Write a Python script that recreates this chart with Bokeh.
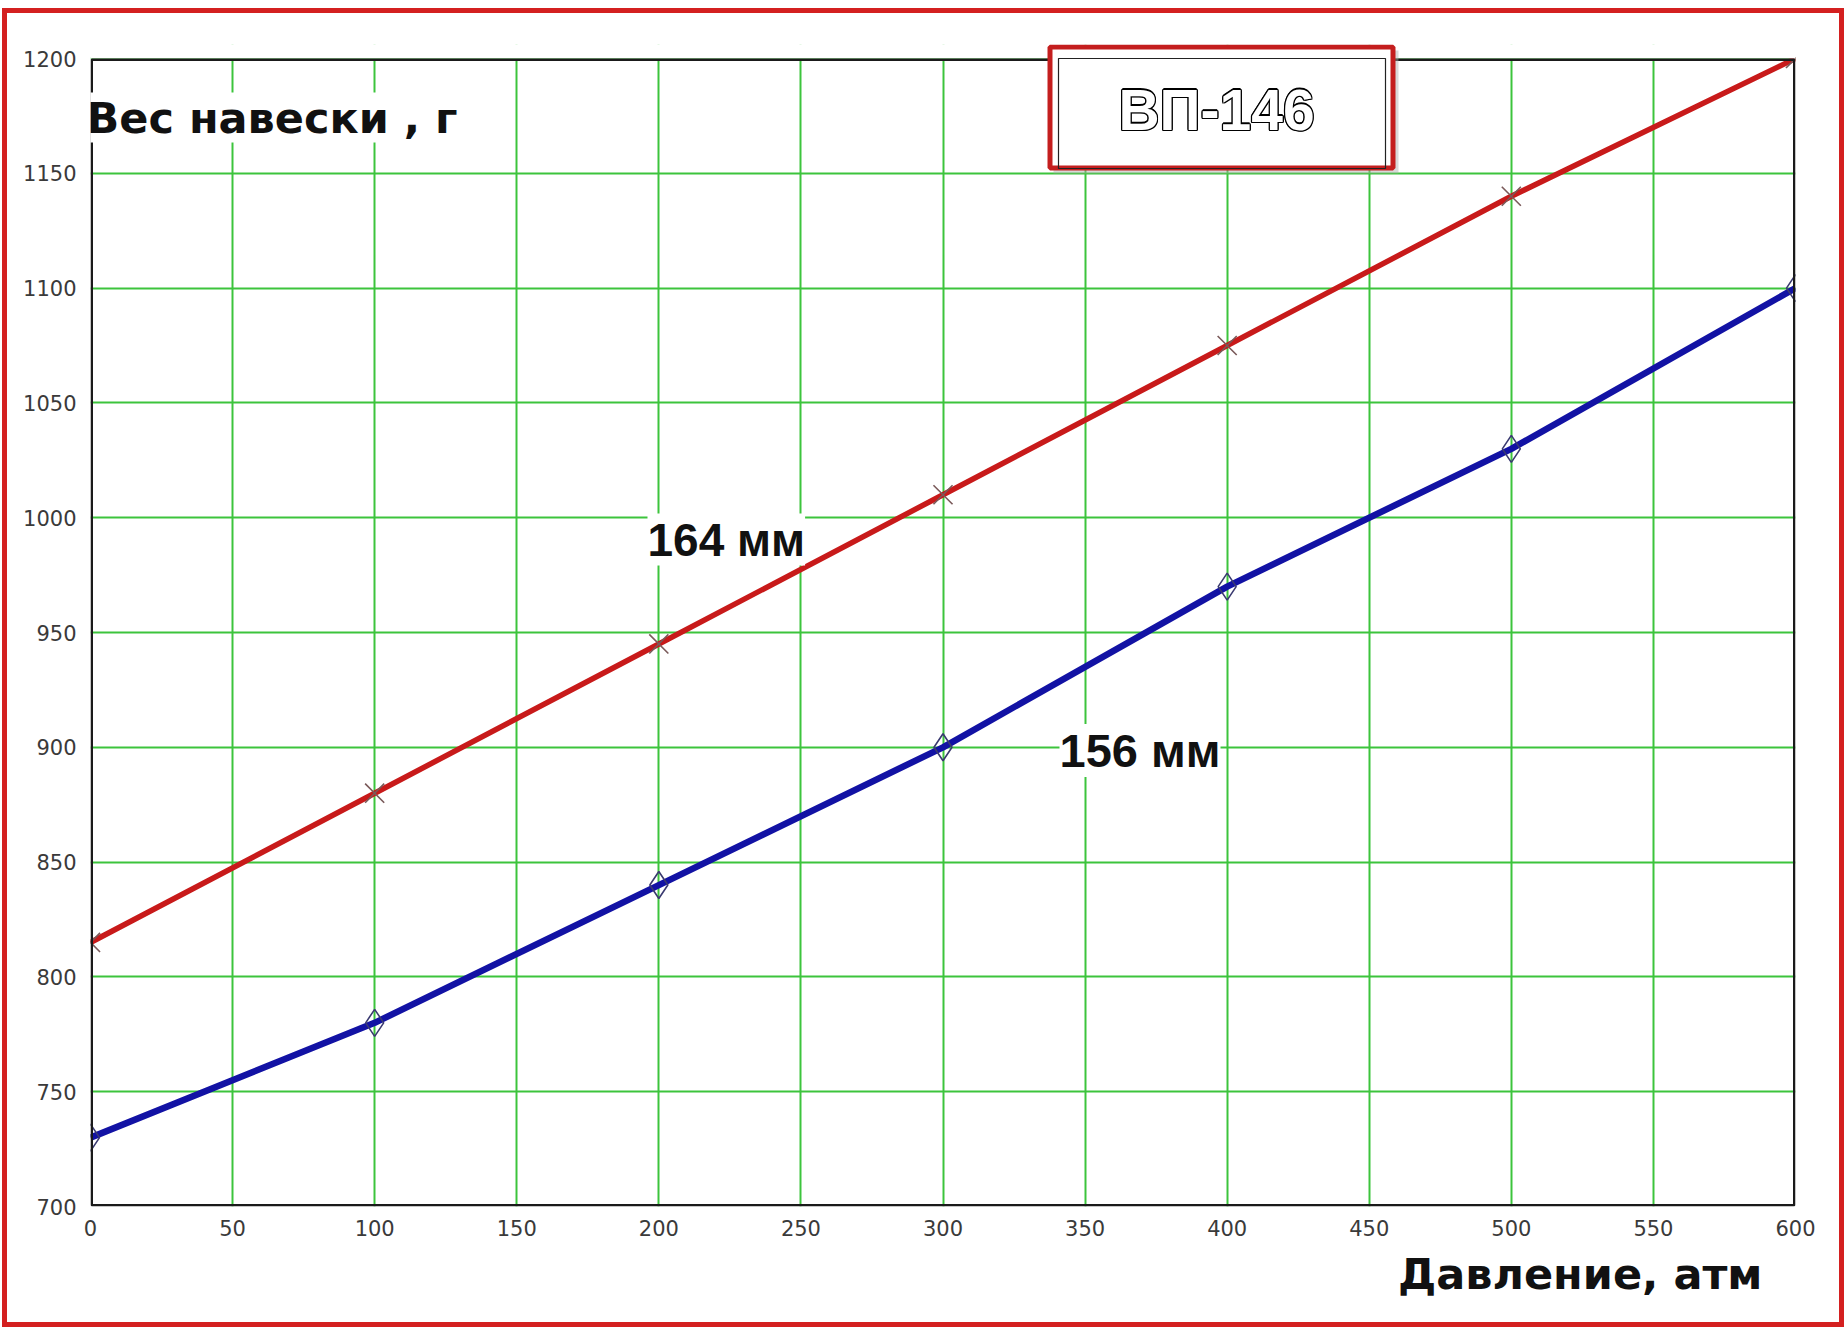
from bokeh.plotting import figure
from bokeh.models import Range1d, FixedTicker, Label, BoxAnnotation, InlineStyleSheet, Title
from bokeh.embed import file_html
from bokeh.resources import INLINE

# ---- data ----
pressure = [0, 100, 200, 300, 400, 500, 600]
weight_164 = [815, 880, 945, 1010, 1075, 1140, 1200]
weight_156 = [730, 780, 840, 900, 970, 1030, 1100]
x_ticks = [0, 50, 100, 150, 200, 250, 300, 350, 400, 450, 500, 550, 600]
y_ticks = [700, 750, 800, 850, 900, 950, 1000, 1050, 1100, 1150, 1200]
label_164 = "164 мм"
label_156 = "156 мм"
y_title = "Вес навески , г"
x_title = "Давление, атм"
badge = "ВП-146"

# ---- layout (page pixels) ----
W, H = 1844, 1327
FL, FR, FB = 90, 1795, 1206
FT_DATA = 58          # pixel row of y = 1200 (top of drawn frame)
FT = 44               # top of the drawing area (badge pokes above the frame)
X0, X1, Y0, Y1 = 0, 600, 700, 1200
Y1_EXT = Y1 + (FT_DATA - FT) / (FB - FT_DATA) * (Y1 - Y0)


def dx(px):
    return X0 + (px - FL) / (FR - FL) * (X1 - X0)


def dy(py):
    return Y0 + (FB - py) / (FB - FT_DATA) * (Y1 - Y0)


p = figure(width=W, height=H, x_range=Range1d(X0, X1), y_range=Range1d(Y0, Y1_EXT),
           output_backend="svg", toolbar_location=None, title=None,
           min_border_left=FL, min_border_right=W - FR,
           min_border_top=FT, min_border_bottom=H - FB)
p.stylesheets = [InlineStyleSheet(css=(
    ":host::after { content: ''; position: absolute; left: 2px; top: 8px; "
    "right: 0px; bottom: 0px; border: 5px solid #d42020; box-sizing: border-box; "
    "z-index: 50; pointer-events: none; }"))]

p.background_fill_color = "white"
p.border_fill_color = "white"
p.outline_line_color = None

p.xgrid.ticker = FixedTicker(ticks=x_ticks)
p.ygrid.ticker = FixedTicker(ticks=y_ticks)
for g in (p.xgrid, p.ygrid):
    g.grid_line_color = "#3cc43c"
    g.grid_line_width = 2
    g.grid_line_alpha = 1.0

p.xaxis.ticker = FixedTicker(ticks=x_ticks)
p.yaxis.ticker = FixedTicker(ticks=y_ticks)
for ax in (p.xaxis, p.yaxis):
    ax.axis_line_color = None
    ax.major_tick_line_color = None
    ax.minor_tick_line_color = None
    ax.major_tick_out = 0
    ax.major_tick_in = 0
    ax.major_label_text_font = "DejaVu Sans"
    ax.major_label_text_font_size = "21px"
    ax.major_label_text_color = "#3a3a3a"
p.xaxis.major_label_standoff = 13
p.yaxis.major_label_standoff = 14

# x-axis title, right-aligned below the tick labels
p.add_layout(Title(text=x_title, align="right", offset=33, text_font="DejaVu Sans",
                   text_font_style="bold", text_font_size="43px", text_color="#111111",
                   standoff=17), "below")

# white strip above y=1200 (badge area), then the plot frame
p.add_layout(BoxAnnotation(left=X0, right=X1, bottom=Y1, top=Y1_EXT + 1,
                           fill_color="white", fill_alpha=1.0, line_alpha=0))

# series
p.line(pressure, weight_164, line_color="#c81a1a", line_width=5.5)
p.scatter(pressure, weight_164, marker="x", size=27, line_color="#7a5a5a", line_width=1.6)
p.line(pressure, weight_156, line_color="#1212a4", line_width=6.5)
p.scatter(pressure, weight_156, marker="diamond", size=27, fill_color=None,
          line_color="#3a3a70", line_width=1.6)

p.add_layout(BoxAnnotation(left=dx(FL + 1.25), right=dx(FR - 1.25),
                           bottom=dy(FB - 1.25), top=dy(FT_DATA + 1.25),
                           fill_alpha=0, line_color="#1a1a1a", line_width=2.5,
                           line_alpha=1.0))

# text labels
p.add_layout(Label(x=dx(86), y=dy(117), text=y_title, text_font="DejaVu Sans",
                   text_font_style="bold", text_font_size="43px", text_color="#111111",
                   text_baseline="middle", text_align="left",
                   background_fill_color="white", background_fill_alpha=1.0))
p.add_layout(Label(x=dx(647), y=dy(539), text=label_164, text_font="Liberation Sans",
                   text_font_style="bold", text_font_size="46px", text_color="#111111",
                   text_baseline="middle", text_align="left",
                   background_fill_color="white", background_fill_alpha=1.0))
p.add_layout(Label(x=dx(1059), y=dy(750), text=label_156, text_font="Liberation Sans",
                   text_font_style="bold", text_font_size="47px", text_color="#111111",
                   text_baseline="middle", text_align="left",
                   background_fill_color="white", background_fill_alpha=1.0))

# badge box
p.add_layout(BoxAnnotation(left=dx(1053), right=dx(1398), top=dy(50), bottom=dy(173),
                           fill_color="#aaaaaa", fill_alpha=0.45, line_alpha=0))
p.add_layout(BoxAnnotation(left=dx(1049.5), right=dx(1392.5), top=dy(46.5), bottom=dy(167.5),
                           fill_color="white", fill_alpha=1.0,
                           line_color="#c41e1e", line_width=5, line_alpha=1.0))
p.add_layout(BoxAnnotation(left=dx(1058), right=dx(1385), top=dy(58), bottom=dy(168),
                           fill_alpha=0, line_color="#222222", line_width=1.2, line_alpha=1.0))
# outlined badge text: dark rim from offset copies, white face on top
for ox, oy in [(-1.2, 0), (1.2, 0), (0, -1.2), (0, 1.2), (-1, -1), (1, 1), (-1, 1), (1, -1)]:
    p.add_layout(Label(x=dx(1216), y=dy(109), x_offset=ox, y_offset=oy, text=badge,
                       text_font="Liberation Sans", text_font_style="bold",
                       text_font_size="57px", text_color="#000000",
                       text_baseline="middle", text_align="center"))
p.add_layout(Label(x=dx(1216), y=dy(109), text=badge, text_font="Liberation Sans",
                   text_font_style="bold", text_font_size="57px", text_color="white",
                   text_baseline="middle", text_align="center"))

open("out.html", "w").write(file_html(p, INLINE))
